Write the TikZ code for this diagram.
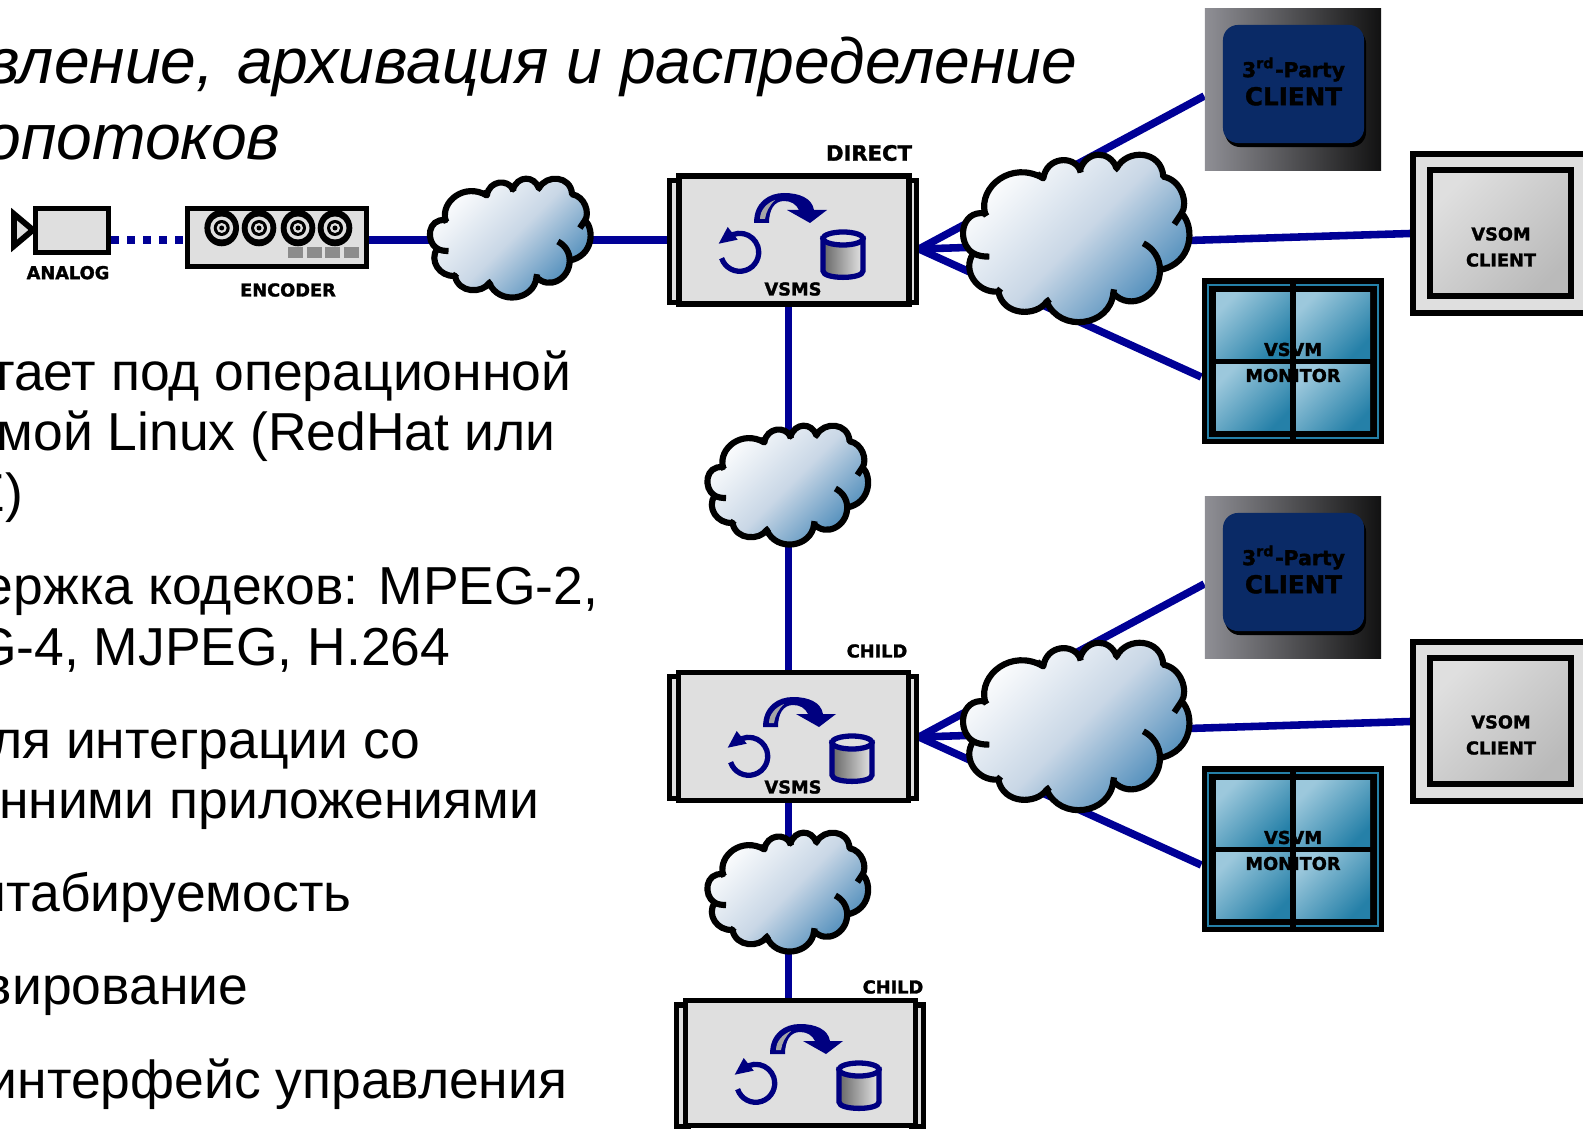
\documentclass[tikz,border=0pt]{standalone}
\usepackage{fontspec}
\setmainfont{Liberation Sans}
\newfontfamily\labelfont[FakeBold=1.6]{DejaVu Sans Bold}
\usetikzlibrary{backgrounds}
\definecolor{linkblue}{HTML}{000096}
\definecolor{iconblue}{HTML}{000080}
\definecolor{devgray}{HTML}{DFDFDF}
\definecolor{clientblue}{HTML}{0A2A66}
\definecolor{cloudmid}{HTML}{C9D7E6}
\definecolor{cloudblue}{HTML}{3F83B5}
\definecolor{panelight}{HTML}{9CC8DC}
\definecolor{panedark}{HTML}{2580A8}
\definecolor{thirdleft}{HTML}{8F8F95}
\definecolor{thirdmid}{HTML}{6C6C70}
\tikzset{
  link/.style={draw=linkblue, line width=2.15pt},
  dotlink/.style={link, dash pattern=on 2.1pt off 2.45pt},
  devbox/.style={rectangle, draw=black, fill=devgray, line width=1.65pt, inner sep=0pt},
  vsmsmain/.style={devbox, minimum width=2.3cm, minimum height=1.28cm},
  vsmsbar/.style={devbox, line width=1.5pt, minimum width=.12cm, minimum height=1.22cm},
  devtext/.style={font=\labelfont\fontsize{#1}{7.4}\selectfont, align=center, inner sep=0pt},
  devtext/.default=5.05,
  bodytext/.style={font=\fontsize{15.2}{18}\selectfont, anchor=base east, inner sep=0pt},
  titletext/.style={font=\itshape\fontsize{18.25}{21}\selectfont, anchor=base east, inner sep=0pt},
  thirdbg/.style={rectangle, inner sep=0pt, minimum width=1.76cm, minimum height=1.61cm, left color=thirdleft, middle color=thirdmid, right color=black!93},
  thirdtop/.style={rectangle, rounded corners=.15cm, inner sep=0pt, fill=clientblue, minimum width=1.41cm, minimum height=1.18cm},
  thirdshadow/.style={thirdtop, fill=black},
  vsomout/.style={devbox, minimum width=1.75cm, minimum height=1.59cm},
  vsomin/.style={rectangle, draw=black, line width=1.65pt, inner sep=0pt, minimum width=1.41cm, minimum height=1.26cm, top color=devgray, bottom color=black!27, shading angle=45},
  monitorbox/.style={rectangle, fill=black, inner sep=0pt, minimum width=1.82cm, minimum height=1.66cm},
  monitorpane/.style={rectangle, inner sep=0pt, minimum width=.74cm, minimum height=.66cm, top color=panelight, bottom color=panedark, shading angle=45},
  iconline/.style={draw=iconblue, line width=1.5pt},
  cloudline/.style={line width=1.75pt},
  cloudfill/.style={draw=black, cloudline, line join=round, top color=white, bottom color=cloudblue, middle color=cloudmid, shading angle=45},
  cloudshape/.pic={
    \begin{scope}[scale=1/3, shift={(-412,-325)}]
      \path[cloudfill] (135,250) .. controls (115,170) and (215,90) .. (310,145)
        .. controls (320,80) and (400,75) .. (420,120)
        .. controls (440,60) and (510,60) .. (530,115)
        .. controls (560,55) and (665,60) .. (670,140)
        .. controls (725,150) and (745,220) .. (725,250)
        .. controls (765,290) and (760,400) .. (660,420)
        .. controls (660,500) and (570,545) .. (520,490)
        .. controls (510,590) and (360,610) .. (320,515)
        .. controls (290,560) and (190,560) .. (175,485)
        .. controls (110,490) and (65,420) .. (100,370)
        .. controls (50,340) and (60,240) .. (135,250) -- cycle;
      \draw[cloudline] (100,370) .. controls (115,378) and (130,380) .. (148,380);
      \draw[cloudline] (725,250) -- (703,283);
      \draw[cloudline] (660,420) .. controls (660,385) and (640,355) .. (610,340);
      \draw[cloudline] (310,145) -- (292,132);
      \draw[cloudline] (420,120) -- (422,128);
      \draw[cloudline] (530,115) -- (524,120);
      \draw[cloudline] (135,250) -- (140,258);
      \draw[cloudline] (520,490) -- (522,478);
      \draw[cloudline] (320,515) -- (330,508);
      \draw[cloudline] (175,485) -- (182,476);
    \end{scope}
  },
  vsmsicons/.pic={
    \fill[iconblue] (-40,-17) .. controls (-40,-38) and (-25,-47) .. (-10,-47)
      .. controls (5,-47) and (18,-42) .. (20,-30) -- (33,-30) -- (16,-17) -- (-7,-30) -- (5,-30)
      .. controls (2,-36) and (-3,-39) .. (-10,-39)
      .. controls (-20,-39) and (-25,-30) .. (-25,-17) -- cycle;
    \fill[black!35] (-34,-21) .. controls (-34,-30) and (-27,-37) .. (-19,-40)
      .. controls (-25,-34) and (-28,-28) .. (-29,-21) -- cycle;
    \draw[iconline] (-54.3,12.3)+(162:19) arc[start angle=162, end angle=-112, radius=19];
    \fill[iconblue] (-75.3,3.7) -- (-66.3,-13) -- (-56.3,-.3) -- cycle;
    \path[iconline, left color=black!60, right color=black!10] (29,-1.5) -- (29,31)
      .. controls (29,39.5) and (69,39.5) .. (69,31) -- (69,-1.5) -- cycle;
    \draw[iconline, fill=devgray] (49,-1.5) ellipse [x radius=20, y radius=6.5];
  }
}
\begin{document}
\begin{tikzpicture}[x=0.01cm, y=-0.01cm]
  \useasboundingbox (0,0) rectangle (1583,1128);

  \node[titletext] (title1) at (1078,83.7) {вление,\hspace{.08em} архивация и распределение};
  \node[titletext] (title2) at (281,160) {опотоков};
  \foreach \yy/\xx/\txt [count=\i] in {
    390.6/572/тает под операционной,
    450.6/556/мой Linux (RedHat или,
    511.3/23.7/E),
    604.6/599/{ержка кодеков: MPEG-2,},
    665.6/451/{G-4, MJPEG, H.264},
    758/421/ля интеграции со,
    818.3/540/нними приложениями,
    911.3/352/штабируемость,
    1004.3/249/вирование,
    1098/568/интерфейс управления}
    \node[bodytext] (line\i) at (\xx,\yy) {\txt};

  % source side
  \draw[devbox] (14,214) -- (33,230) -- (14,246) -- cycle;
  \node[devbox, minimum width=.73cm, minimum height=.44cm] (camera) at (72,230.5) {};
  \node[devtext] (analog) at (68,272.7) {ANALOG};
  \node[devbox, minimum width=1.79cm, minimum height=.58cm] (encoder) at (277,237.5) {};
  \foreach \xx in {221.7,259,298,335} {
    \fill[black] (\xx,228) circle [x radius=17.3, y radius=18.3];
    \fill[devgray] (\xx,228) circle [radius=11.5];
    \fill[black] (\xx,228) circle [radius=8];
    \fill[devgray] (\xx,228) circle [radius=5];
    \fill[black] (\xx,228) circle [radius=2.5];
  }
  \foreach \xx in {288,307,325,344}
    \fill[black!45] (\xx,247) rectangle ++(15,11);
  \node[devtext] (encodertext) at (288,290) {ENCODER};

  % servers
  \node[vsmsbar] (barAl) at (675.5,241.5) {};
  \node[vsmsbar] (barAr) at (910.5,241.5) {};
  \node[vsmsmain] (vsmsA) at (794,240) {};
  \pic at (vsmsA) {vsmsicons};
  \node[devtext] (vsmstextA) at (793,289) {VSMS};
  \node[devtext=6] (direct) at (869,153) {DIRECT};

  \node[vsmsbar] (barBl) at (675.5,737.5) {};
  \node[vsmsbar] (barBr) at (910.5,737.5) {};
  \node[vsmsmain] (vsmsB) at (793.5,736.5) {};
  \pic at (803,744) {vsmsicons};
  \node[devtext] (vsmstextB) at (793,787) {VSMS};
  \node[devtext] (childB) at (877,651) {CHILD};

  \node[vsmsbar] (barCl) at (682.5,1066) {};
  \node[vsmsbar] (barCr) at (917.5,1066) {};
  \node[vsmsmain, minimum height=1.25cm] (vsmsC) at (800.5,1063) {};
  \pic at (810,1071) {vsmsicons};
  \node[devtext] (childC) at (893,987) {CHILD};

  % clients
  \foreach \k/\dy in {A/0,B/488} {
    \node[thirdbg] (third\k) at (1293,{89.5+\dy}) {};
    \node[thirdshadow] (thirdsh\k) at (1295.5,{88+\dy}) {};
    \node[thirdtop] (thirdtop\k) at (1293.5,{84+\dy}) {};
    \node[devtext=7] (thirdtext\k) at (1293.5,{81.5+\dy})
      {{\fontsize{5.8}{8}\selectfont 3\textsuperscript{rd}-Party}\\[.6pt]CLIENT};

    \node[vsomout] (vsomout\k) at (1500.5,{233.5+\dy}) {};
    \node[vsomin] (vsomin\k) at (1500.5,{233+\dy}) {};
    \node[devtext] (vsomtext\k) at (1501,{247+\dy}) {VSOM\\CLIENT};

    \node[monitorbox] (monitor\k) at (1293,{361+\dy}) {};
    \draw[panedark, line width=.5pt] (1208,{285+\dy}) rectangle (1378,{438+\dy});
    \foreach \px in {1253,1333}
      \foreach \py in {325.5,397.5}
        \node[monitorpane] at (\px,{\py+\dy}) {};
    \fill[black] (1290,{284+\dy}) rectangle (1296,{439+\dy});
    \node[devtext] (monitortext\k) at (1293,{362.5+\dy}) {VSVM\\MONITOR};

    \coordinate (fan\k) at (919,{249+\dy});
  }

  \begin{scope}[on background layer]
    \draw[dotlink] (camera.east |- vsmsA) -- (encoder.west |- vsmsA);
    \draw[link] (encoder.east |- vsmsA) -- (barAl.west |- vsmsA);
    \foreach \k in {A,B} {
      \draw[link] (fan\k) -- ([yshift=-.065cm]third\k.west);
      \draw[link] (fan\k) -- (vsomout\k.west);
      \draw[link] (fan\k) -- ([yshift=-.16cm]monitor\k.west);
    }
    \coordinate (cloudC) at (788.5,485);
    \coordinate (cloudD) at (788.5,892);
    \draw[link] (vsmsA.south -| cloudC) -- (vsmsB.north -| cloudC);
    \draw[link] (vsmsB.south -| cloudC) -- (vsmsC.north -| cloudC);
  \end{scope}

  % clouds
  \pic[scale=.71] at (511,238) {cloudshape};
  \pic at (1077.3,238.3) {cloudshape};
  \pic at (1077.3,726.3) {cloudshape};
  \pic[scale=.71] at (cloudC) {cloudshape};
  \pic[scale=.71] at (cloudD) {cloudshape};
\end{tikzpicture}
\end{document}
